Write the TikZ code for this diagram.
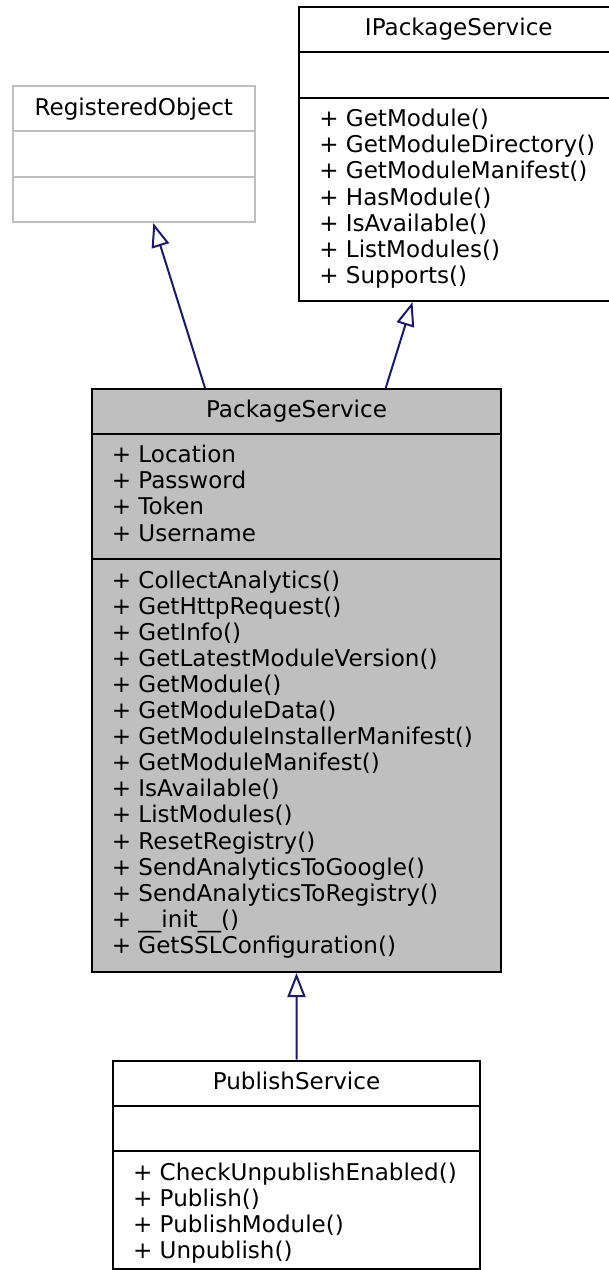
\documentclass[tikz,border=0pt]{standalone}
\usepackage{fontspec}
\setmainfont{DejaVu Sans}
\usetikzlibrary{arrows.meta,fit,calc}
\definecolor{navy}{HTML}{191970}
\definecolor{boxgray}{HTML}{BFBFBF}
\begin{document}
\begin{tikzpicture}[x=0.75pt,y=-0.75pt,
  font=\fontsize{17.3}{19.6}\selectfont,
  cls/.style={draw=black, line width=1.5pt, inner sep=0pt},
  clsgray/.style={draw=boxgray, line width=1.5pt, inner sep=0pt},
  sep/.style={line width=1.5pt},
  txt/.style={anchor=base west, inner sep=0pt},
  ttl/.style={anchor=base, inner sep=0pt},
  inh/.style={draw=navy, line width=1.5pt, -{Triangle[open, length=18pt, width=13.5pt]}}]
\useasboundingbox (0,0) rectangle (609,1270);
\clip (0,0) rectangle (609,1270);
% corner coordinates
\coordinate (roNW) at (12.5,86);   \coordinate (roSE) at (255,222);
\coordinate (ipNW) at (298.5,7);   \coordinate (ipSE) at (619,301);
\coordinate (psNW) at (92,389);    \coordinate (psSE) at (501,972);
\coordinate (puNW) at (113.3,1060.7); \coordinate (puSE) at (479.7,1268.5);
% boxes
\node[clsgray, fit=(roNW)(roSE)] (ro) {};
\node[cls, fit=(ipNW)(ipSE)] (ip) {};
\node[cls, fill=boxgray, fit=(psNW)(psSE)] (ps) {};
\node[cls, fit=(puNW)(puSE)] (pu) {};
% dividers
\draw[sep, draw=boxgray] (12.5,131) -- (255,131) (12.5,176.7) -- (255,176.7);
\draw[sep] (298.5,52.3) -- (619,52.3) (298.5,97.7) -- (619,97.7);
\draw[sep] (92,434) -- (501,434) (92,559) -- (501,559);
\draw[sep] (113.3,1105.7) -- (479.7,1105.7) (113.3,1151.3) -- (479.7,1151.3);
% titles
\node[ttl] (roT) at (133.8,115) {RegisteredObject};
\node[ttl] (ipT) at (458.8,35.5) {IPackageService};
\node[ttl] (psT) at (296.5,417.7) {PackageService};
\node[ttl] (puT) at (296.5,1089.7) {PublishService};
% IPackageService methods
\foreach \t [count=\i from 0] in {{+ GetModule()},{+ GetModuleDirectory()},{+ GetModuleManifest()},{+ HasModule()},{+ IsAvailable()},{+ ListModules()},{+ Supports()}}
  \node[txt] (ipm\i) at (319,126.7+26.1*\i) {\t};
% PackageService attributes
\foreach \t [count=\i from 0] in {{+ Location},{+ Password},{+ Token},{+ Username}}
  \node[txt] (psa\i) at (111.5,462.7+26.1*\i) {\t};
% PackageService methods
\foreach \t [count=\i from 0] in {{+ CollectAnalytics()},{+ GetHttpRequest()},{+ GetInfo()},{+ GetLatestModuleVersion()},{+ GetModule()},{+ GetModuleData()},{+ GetModuleInstallerManifest()},{+ GetModuleManifest()},{+ IsAvailable()},{+ ListModules()},{+ ResetRegistry()},{+ SendAnalyticsToGoogle()},{+ SendAnalyticsToRegistry()},{+ \_\_init\_\_()},{+ GetSSLConfiguration()}}
  \node[txt] (psm\i) at (111.5,588+26.1*\i) {\t};
% PublishService methods
\foreach \t [count=\i from 0] in {{+ CheckUnpublishEnabled()},{+ Publish()},{+ PublishModule()},{+ Unpublish()}}
  \node[txt] (pum\i) at (132.8,1180.3+26.1*\i) {\t};
% inheritance connectors
\draw[inh] ($(ps.north west)+(114,0)$) -- ($(ro.south west)+(141.8,0)$);
\draw[inh] ($(ps.north west)+(294.7,0)$) -- ($(ip.south west)+(115,0)$);
\draw[inh] (pu.north) -- (ps.south);
\end{tikzpicture}
\end{document}
